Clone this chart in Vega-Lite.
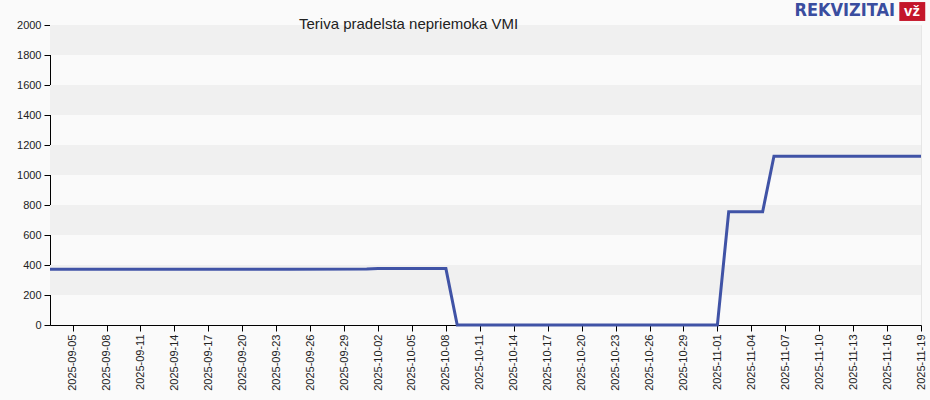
{
  "$schema": "https://vega.github.io/schema/vega-lite/v6.json",
  "autosize": "none",
  "width": 871,
  "height": 300,
  "padding": {"left": 50, "top": 25, "right": 9, "bottom": 75},
  "background": "#fafafa",
  "config": {
    "font": "Liberation Sans",
    "view": {"stroke": "#e6e6e6", "strokeWidth": 1, "fill": "#fafafa"}
  },
  "title": {
    "text": "Teriva pradelsta nepriemoka VMI",
    "anchor": "start",
    "frame": "group",
    "dx": 249,
    "offset": -30,
    "fontSize": 15,
    "fontWeight": "normal",
    "color": "#222222",
    "font": "Liberation Sans"
  },
  "datasets": {
    "series": [
      {"date": "2025-09-03", "value": 372},
      {"date": "2025-09-10", "value": 372},
      {"date": "2025-09-17", "value": 372},
      {"date": "2025-09-24", "value": 372},
      {"date": "2025-10-01", "value": 373},
      {"date": "2025-10-02", "value": 376},
      {"date": "2025-10-08", "value": 376},
      {"date": "2025-10-09", "value": 0},
      {"date": "2025-10-16", "value": 0},
      {"date": "2025-10-23", "value": 0},
      {"date": "2025-11-01", "value": 0},
      {"date": "2025-11-02", "value": 755},
      {"date": "2025-11-05", "value": 755},
      {"date": "2025-11-06", "value": 1125},
      {"date": "2025-11-12", "value": 1125},
      {"date": "2025-11-19", "value": 1125}
    ],
    "bands": [
      {"date": "2025-09-03", "date2": "2025-11-19", "value": 200, "value2": 400},
      {"date": "2025-09-03", "date2": "2025-11-19", "value": 600, "value2": 800},
      {"date": "2025-09-03", "date2": "2025-11-19", "value": 1000, "value2": 1200},
      {"date": "2025-09-03", "date2": "2025-11-19", "value": 1400, "value2": 1600},
      {"date": "2025-09-03", "date2": "2025-11-19", "value": 1800, "value2": 2000}
    ],
    "badgeBox": [
      {"date": "2025-11-17T02:00:00Z", "date2": "2025-11-19T09:00:00Z", "value": 2027, "value2": 2153}
    ],
    "brandText": [
      {"date": "2025-11-16T17:00:00Z", "value": 2093, "label": "REKVIZITAI"}
    ],
    "badgeText": [
      {"date": "2025-11-18T05:00:00Z", "value": 2093, "label": "vž"}
    ]
  },
  "encoding": {
    "x": {
      "field": "date",
      "type": "temporal",
      "scale": {"type": "utc", "domain": [{"year": 2025, "month": 9, "date": 3, "utc": true}, {"year": 2025, "month": 11, "date": 19, "utc": true}]},
      "axis": {
        "title": null,
        "labelExpr": "utcFormat(datum.value, '%Y-%m-%d')",
        "labelAngle": 270,
        "labelFontSize": 11,
        "labelColor": "#222222",
        "labelPadding": 3,
        "tickSize": 6,
        "tickColor": "#000000",
        "domainColor": "#000000",
        "grid": false,
        "labelOverlap": false,
        "values": [
          {"year": 2025, "month": 9, "date": 5, "utc": true},
          {"year": 2025, "month": 9, "date": 8, "utc": true},
          {"year": 2025, "month": 9, "date": 11, "utc": true},
          {"year": 2025, "month": 9, "date": 14, "utc": true},
          {"year": 2025, "month": 9, "date": 17, "utc": true},
          {"year": 2025, "month": 9, "date": 20, "utc": true},
          {"year": 2025, "month": 9, "date": 23, "utc": true},
          {"year": 2025, "month": 9, "date": 26, "utc": true},
          {"year": 2025, "month": 9, "date": 29, "utc": true},
          {"year": 2025, "month": 10, "date": 2, "utc": true},
          {"year": 2025, "month": 10, "date": 5, "utc": true},
          {"year": 2025, "month": 10, "date": 8, "utc": true},
          {"year": 2025, "month": 10, "date": 11, "utc": true},
          {"year": 2025, "month": 10, "date": 14, "utc": true},
          {"year": 2025, "month": 10, "date": 17, "utc": true},
          {"year": 2025, "month": 10, "date": 20, "utc": true},
          {"year": 2025, "month": 10, "date": 23, "utc": true},
          {"year": 2025, "month": 10, "date": 26, "utc": true},
          {"year": 2025, "month": 10, "date": 29, "utc": true},
          {"year": 2025, "month": 11, "date": 1, "utc": true},
          {"year": 2025, "month": 11, "date": 4, "utc": true},
          {"year": 2025, "month": 11, "date": 7, "utc": true},
          {"year": 2025, "month": 11, "date": 10, "utc": true},
          {"year": 2025, "month": 11, "date": 13, "utc": true},
          {"year": 2025, "month": 11, "date": 16, "utc": true},
          {"year": 2025, "month": 11, "date": 19, "utc": true}
        ]
      }
    },
    "y": {
      "field": "value",
      "type": "quantitative",
      "scale": {"domain": [0, 2000], "nice": false},
      "axis": {
        "title": null,
        "values": [0, 200, 400, 600, 800, 1000, 1200, 1400, 1600, 1800, 2000],
        "format": "d",
        "labelFontSize": 11,
        "labelColor": "#222222",
        "labelPadding": 3,
        "tickSize": 6,
        "tickColor": "#000000",
        "domainColor": "#000000",
        "grid": false
      }
    }
  },
  "layer": [
    {
      "data": {"name": "bands"},
      "mark": {"type": "rect", "color": "#f0f0f0"},
      "encoding": {
        "x2": {"field": "date2"},
        "y2": {"field": "value2"}
      }
    },
    {
      "data": {"name": "series"},
      "mark": {"type": "line", "color": "#4053a6", "strokeWidth": 3, "interpolate": "linear"},
      "encoding": {}
    },
    {
      "data": {"name": "badgeBox"},
      "mark": {"type": "rect", "color": "#c4162a", "clip": false},
      "encoding": {
        "x2": {"field": "date2"},
        "y2": {"field": "value2"}
      }
    },
    {
      "data": {"name": "brandText"},
      "mark": {"type": "text", "align": "right", "baseline": "middle", "font": "DejaVu Sans Condensed", "fontWeight": "bold", "fontSize": 18, "color": "#3a4d9f"},
      "encoding": {
        "text": {"field": "label"}
      }
    },
    {
      "data": {"name": "badgeText"},
      "mark": {"type": "text", "align": "center", "baseline": "middle", "font": "Liberation Sans", "fontWeight": "bold", "fontSize": 15, "color": "#ffffff"},
      "encoding": {
        "text": {"field": "label"}
      }
    }
  ]
}
